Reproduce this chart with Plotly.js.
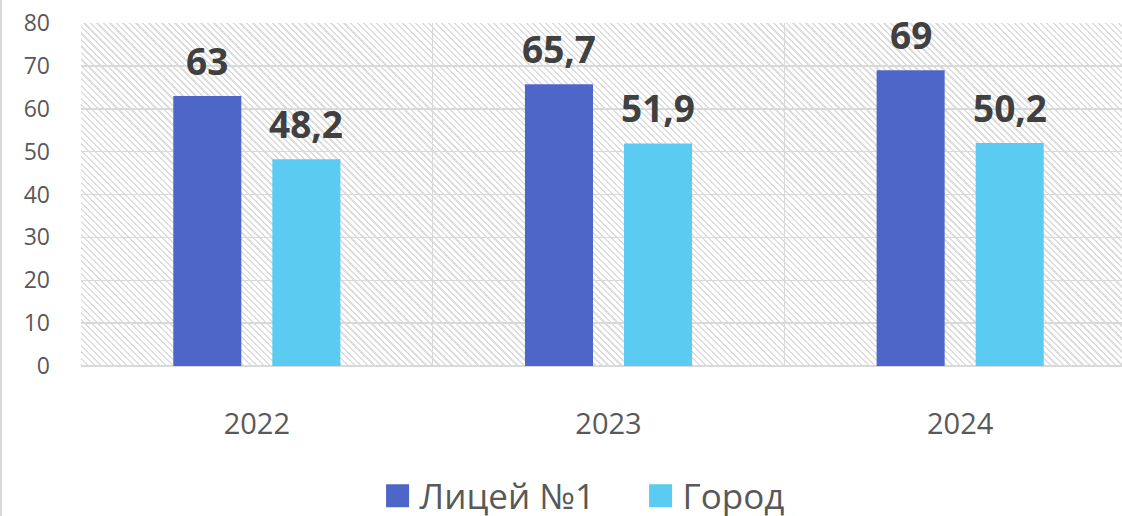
<!DOCTYPE html>
<html>
<head>
<meta charset="utf-8">
<script src="https://cdn.plot.ly/plotly-3.0.1.min.js"></script>
<style>
  html, body { margin: 0; padding: 0; background: #ffffff; overflow: hidden; width: 1122px; height: 516px; }
  #wrap { position: relative; width: 1140px; height: 516px; }
  #hatch {
    position: absolute; left: 81px; top: 23px; width: 1055px; height: 343px;
    background-image: repeating-linear-gradient(45deg, #dedede 0px, #dedede 1.6px, #ffffff 1.6px, #ffffff 4.6px);
    z-index: 0;
  }
  #frame { position: absolute; left: 0; top: 0; width: 2px; height: 516px; background: #d9d9d9; z-index: 2; }
  #chart { position: absolute; left: 0; top: 0; width: 1136px; height: 516px; z-index: 1; }
</style>
</head>
<body>
<div id="wrap">
  <div id="hatch"></div>
  <div id="frame"></div>
  <div id="chart"></div>
</div>
<script>
const years = ['2022', '2023', '2024'];
const seriesNames = ['Лицей №1', 'Город'];
const liceumValues = [63, 65.7, 69];
const cityValues = [48.2, 51.9, 52];
const liceumLabels = ['63', '65,7', '69'];
const cityLabels = ['48,2', '51,9', '50,2'];
const yTicks = [0, 10, 20, 30, 40, 50, 60, 70, 80];

const colors = ['#4e66c8', '#5bcbf1'];
const font = 'Open Sans, DejaVu Sans, sans-serif';

const traces = [
  { type: 'bar', name: seriesNames[0], x: years, y: liceumValues, marker: { color: colors[0] }, hoverinfo: 'skip' },
  { type: 'bar', name: seriesNames[1], x: years, y: cityValues, marker: { color: colors[1] }, hoverinfo: 'skip' },
];

// data labels above bars, shifted to their group slot (category axis -> index positions)
const annotations = [];
[[liceumValues, liceumLabels, -49.5], [cityValues, cityLabels, 49.5]].forEach(([vals, labels, shift]) => {
  vals.forEach((v, i) => {
    annotations.push({
      x: i, y: v, xref: 'x', yref: 'y',
      text: labels[i], showarrow: false,
      xshift: shift, yshift: 8, yanchor: 'bottom',
      font: { family: font, size: 37, color: '#404040', weight: 'bold' },
    });
  });
});

const layout = {
  width: 1136,
  height: 516,
  paper_bgcolor: 'rgba(0,0,0,0)',
  plot_bgcolor: 'rgba(0,0,0,0)',
  margin: { l: 81, r: 0, t: 23, b: 150, autoexpand: false },
  font: { family: font, color: '#595959' },
  barmode: 'group',
  bargap: 0.4367,
  bargroupgap: 0.313,
  xaxis: {
    type: 'category',
    range: [-0.5, 2.5],
    tickson: 'boundaries',
    showgrid: true,
    gridcolor: '#d9d9d9',
    gridwidth: 1.5,
    ticks: '',
    showline: false,
    tickangle: 0,
    tickfont: { family: font, size: 29, color: '#595959' },
    ticklabelstandoff: 38,
  },
  yaxis: {
    range: [0, 80],
    tickvals: yTicks,
    showgrid: true,
    gridcolor: '#d9d9d9',
    gridwidth: 1.5,
    zeroline: true,
    zerolinecolor: '#d9d9d9',
    zerolinewidth: 1.5,
    ticks: '',
    tickfont: { family: font, size: 23, color: '#595959' },
    ticklabelstandoff: 30,
  },
  showlegend: true,
  legend: {
    orientation: 'h',
    x: 0.283,
    xanchor: 'left',
    y: -0.379,
    yanchor: 'middle',
    entrywidth: 218,
    font: { family: font, size: 35, color: '#595959' },
    traceorder: 'normal',
  },
  annotations,
};

Plotly.newPlot('chart', traces, layout, { displayModeBar: false, staticPlot: true }).then(() => {
  // bigger square legend swatches, closer to the label text
  document.querySelectorAll('#chart .legend [clip-path]').forEach((el) => el.removeAttribute('clip-path'));
  document.querySelectorAll('#chart .legendpoints path').forEach((p) => {
    p.removeAttribute('transform');
    p.setAttribute('d', 'M29.5,11.5H6.5V-11.5H29.5Z');
  });
});
</script>
</body>
</html>
